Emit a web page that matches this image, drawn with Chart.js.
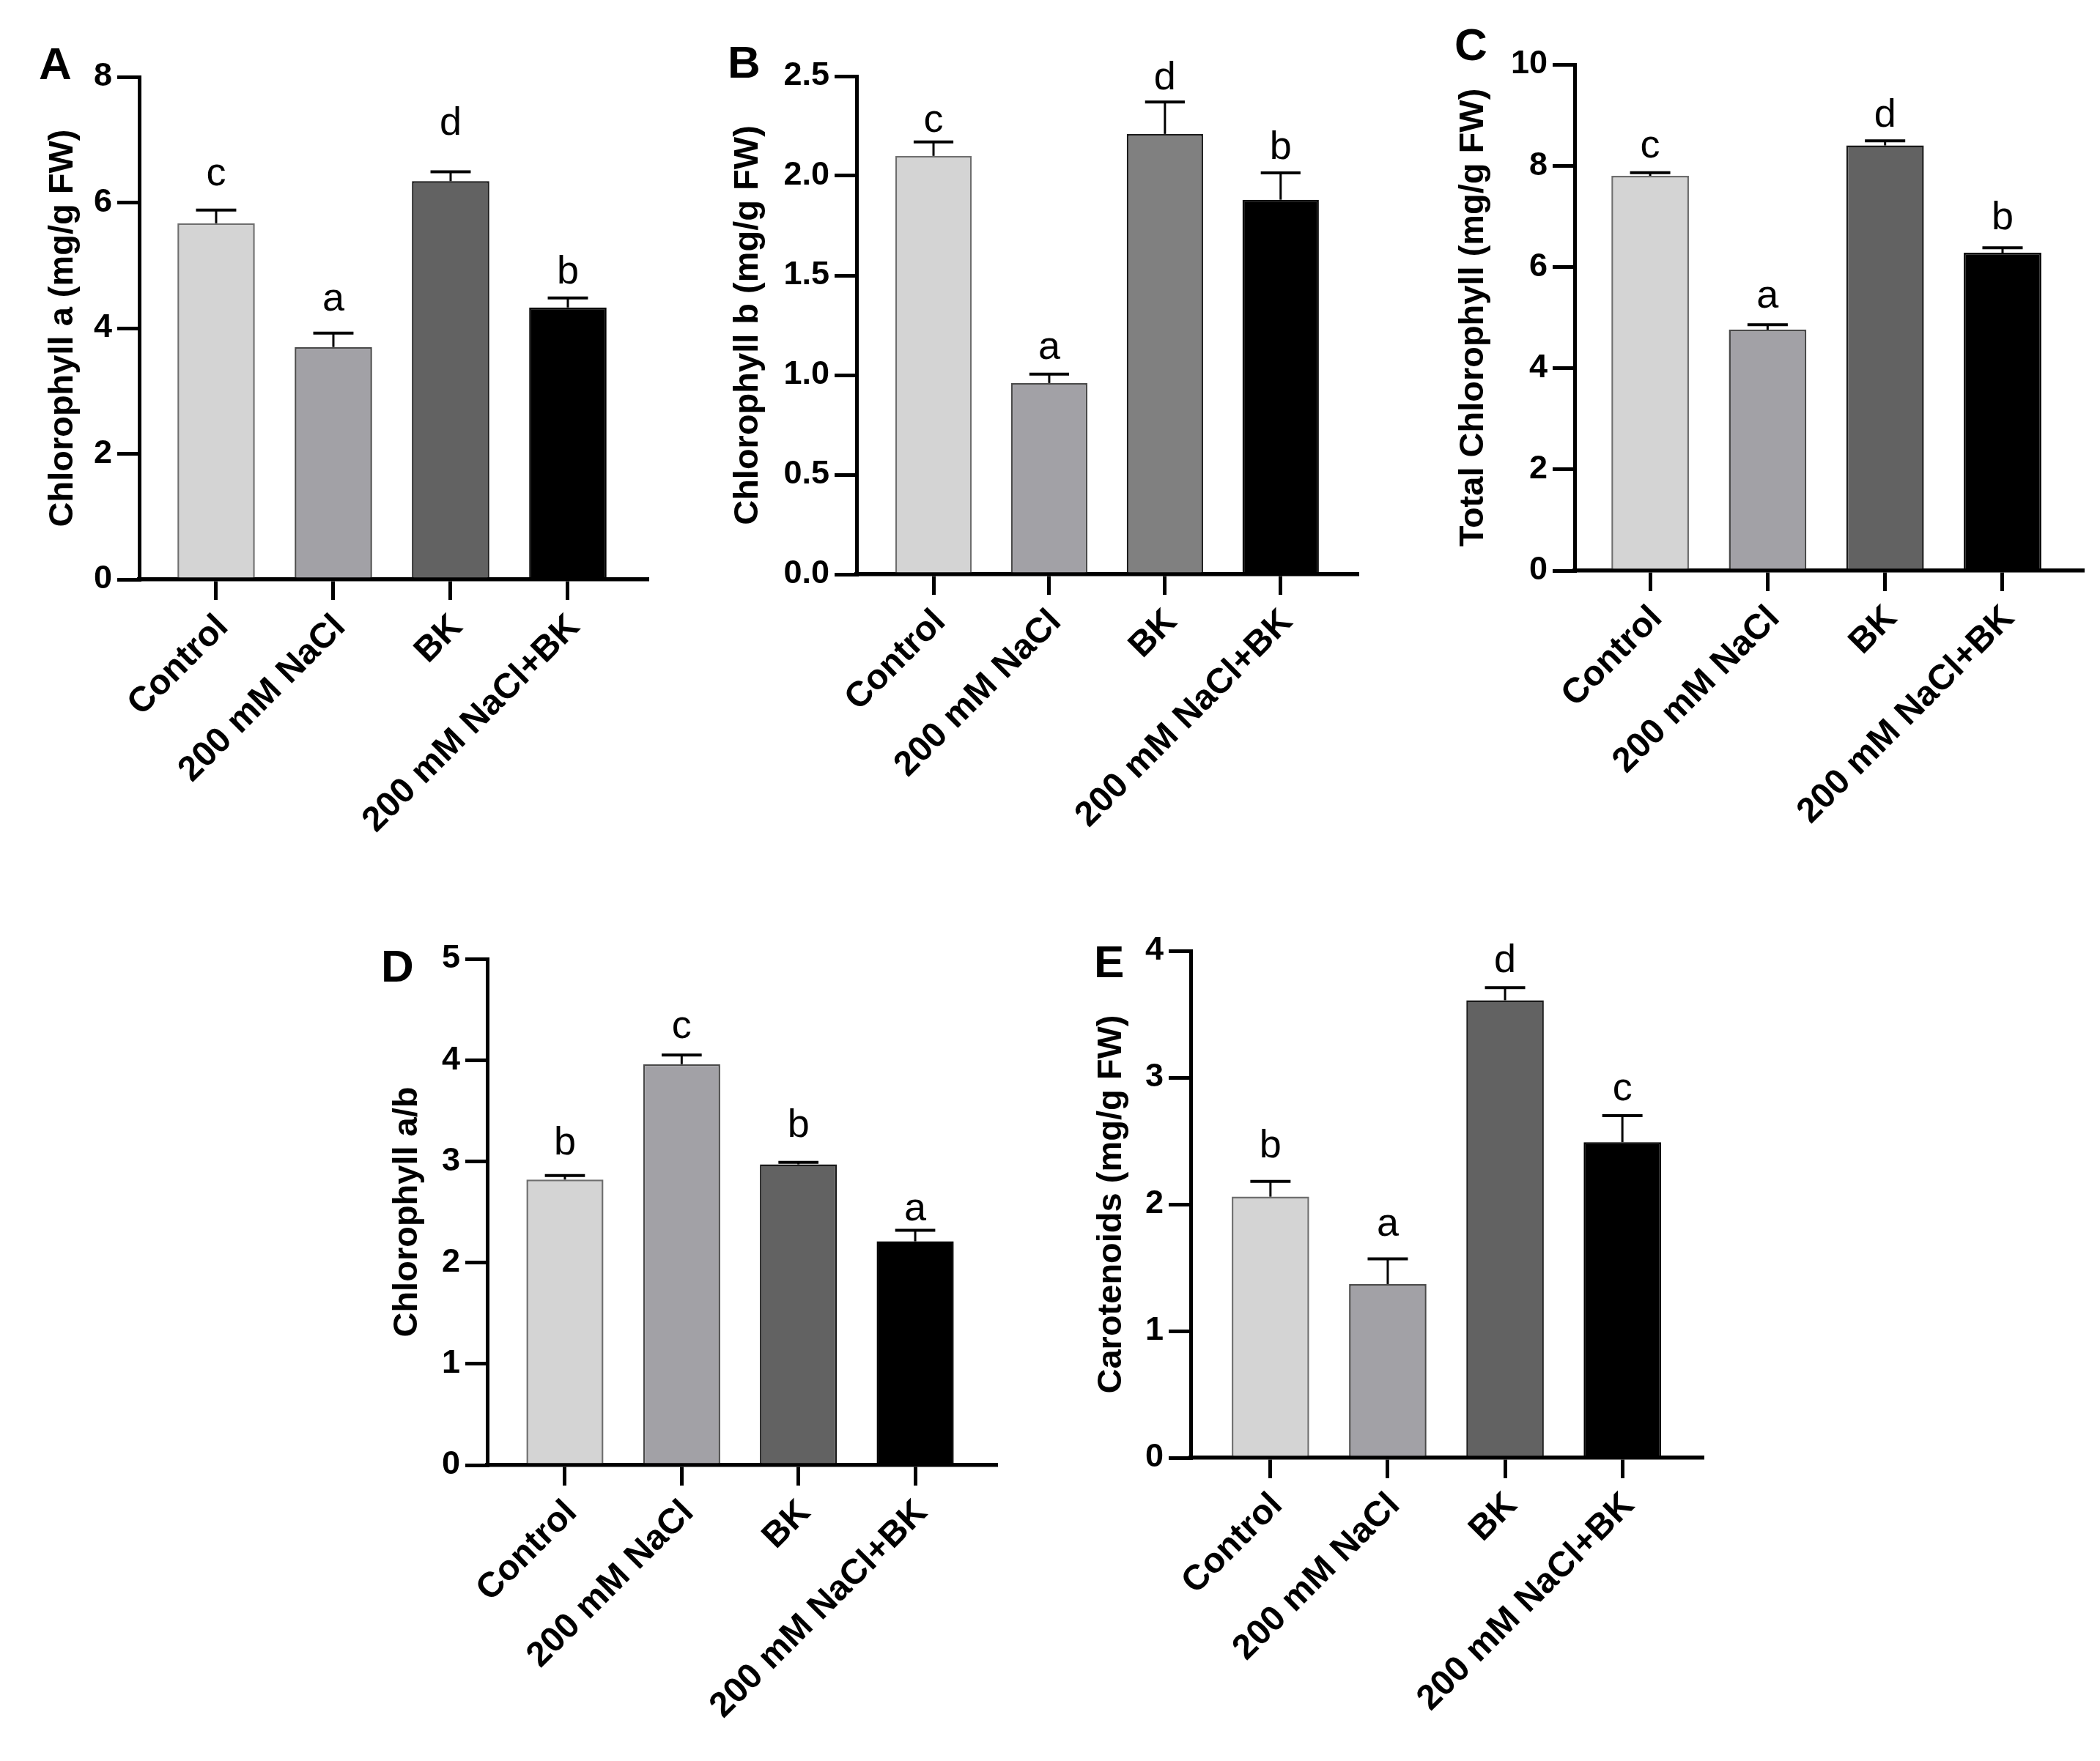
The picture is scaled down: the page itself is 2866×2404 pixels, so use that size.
<!DOCTYPE html>
<html><head><meta charset="utf-8">
<script src="https://cdn.jsdelivr.net/npm/chart.js@4.4.1/dist/chart.umd.min.js"></script>
<style>
html,body{margin:0;padding:0;background:#fff;}
body{width:2866px;height:2404px;position:relative;overflow:hidden;}
.panel{position:absolute;}
.panel canvas{display:block;}
</style></head><body>
<script>
// ---------- DATA ----------
const categories = ['Control', '200 mM NaCl', 'BK', '200 mM NaCl+BK'];

const chlA = [5.67, 3.70, 6.34, 4.33];
const chlAErr = [0.21, 0.22, 0.15, 0.15];
const chlALetters = ['c', 'a', 'd', 'b'];
const chlALetterY = [6.27, 4.28, 7.08, 4.71];
const chlATicks = [0, 2, 4, 6, 8];
const chlATickLabels = ['0', '2', '4', '6', '8'];

const chlB = [2.10, 0.96, 2.21, 1.88];
const chlBErr = [0.07, 0.045, 0.16, 0.135];
const chlBLetters = ['c', 'a', 'd', 'b'];
const chlBLetterY = [2.22, 1.08, 2.435, 2.083];
const chlBTicks = [0, 0.5, 1.0, 1.5, 2.0, 2.5];
const chlBTickLabels = ['0.0', '0.5', '1.0', '1.5', '2.0', '2.5'];

const totalChl = [7.80, 4.76, 8.40, 6.28];
const totalChlErr = [0.06, 0.10, 0.09, 0.10];
const totalChlLetters = ['c', 'a', 'd', 'b'];
const totalChlLetterY = [8.16, 5.20, 8.77, 6.74];
const totalChlTicks = [0, 2, 4, 6, 8, 10];
const totalChlTickLabels = ['0', '2', '4', '6', '8', '10'];

const chlRatio = [2.82, 3.96, 2.97, 2.21];
const chlRatioErr = [0.04, 0.09, 0.02, 0.11];
const chlRatioLetters = ['b', 'c', 'b', 'a'];
const chlRatioLetterY = [3.07, 4.22, 3.24, 2.42];
const chlRatioTicks = [0, 1, 2, 3, 4, 5];
const chlRatioTickLabels = ['0', '1', '2', '3', '4', '5'];

const carot = [2.06, 1.37, 3.61, 2.49];
const carotErr = [0.12, 0.20, 0.10, 0.21];
const carotLetters = ['b', 'a', 'd', 'c'];
const carotLetterY = [2.37, 1.75, 3.83, 2.82];
const carotTicks = [0, 1, 2, 3, 4];
const carotTickLabels = ['0', '1', '2', '3', '4'];

// ---------- STYLE / LAYOUT ----------
const FONT = '"Liberation Sans", Arial, Helvetica, sans-serif';
const colorsStd = ['#d4d4d4', '#a2a1a6', '#626262', '#000000'];
const colorsB = ['#d4d4d4', '#a2a1a6', '#808080', '#000000'];
const borderCols = ['#6e6e6e', '#4a4a4a', '#1a1a1a', '#000000'];

const panels = [
  {lab:'A', title:'Chlorophyll a (mg/g FW)', values:chlA, errs:chlAErr, letters:chlALetters, letterY:chlALetterY, ticks:chlATicks, tickLabels:chlATickLabels, colors:colorsStd,
   left:0, top:0, w:960, h:1200, axisX:190, topY:105, zeroY:791, rightX:883, titleCX:86, xmin:-0.656, xmax:3.675, labX:53, labBase:108},
  {lab:'B', title:'Chlorophyll b (mg/g FW)', values:chlB, errs:chlBErr, letters:chlBLetters, letterY:chlBLetterY, ticks:chlBTicks, tickLabels:chlBTickLabels, colors:colorsB,
   left:960, top:0, w:960, h:1200, axisX:1169, topY:104, zeroY:784, rightX:1852, titleCX:1021, xmin:-0.665, xmax:3.66, labX:993, labBase:106},
  {lab:'C', title:'Total Chlorophyll (mg/g FW)', values:totalChl, errs:totalChlErr, letters:totalChlLetters, letterY:totalChlLetterY, ticks:totalChlTicks, tickLabels:totalChlTickLabels, colors:colorsStd,
   left:1920, top:0, w:946, h:1200, axisX:2149, topY:88, zeroY:779, rightX:2842, titleCX:2011, xmin:-0.643, xmax:3.68, labX:1985, labBase:82},
  {lab:'D', title:'Chlorophyll a/b', values:chlRatio, errs:chlRatioErr, letters:chlRatioLetters, letterY:chlRatioLetterY, ticks:chlRatioTicks, tickLabels:chlRatioTickLabels, colors:colorsStd,
   left:420, top:1230, w:1000, h:1174, axisX:665, topY:1309, zeroY:2000, rightX:1359, titleCX:556, xmin:-0.665, xmax:3.69, labX:520, labBase:1340},
  {lab:'E', title:'Carotenoids (mg/g FW)', values:carot, errs:carotErr, letters:carotLetters, letterY:carotLetterY, ticks:carotTicks, tickLabels:carotTickLabels, colors:colorsStd,
   left:1420, top:1230, w:1000, h:1174, axisX:1625, topY:1298, zeroY:1990, rightX:2323, titleCX:1517, xmin:-0.68, xmax:3.68, labX:1493, labBase:1334}
];

Chart.defaults.color = '#000';
Chart.defaults.font.family = FONT;

const TITLE_SIZE = 47;
const YTICK_SIZE = 45;
const XTICK_SIZE = 48;

function makePanel(p) {
  const div = document.createElement('div');
  div.className = 'panel';
  div.style.left = p.left + 'px';
  div.style.top = p.top + 'px';
  div.style.width = p.w + 'px';
  div.style.height = p.h + 'px';
  const cv = document.createElement('canvas');
  div.appendChild(cv);
  document.body.appendChild(div);

  const extras = {
    id: 'extras' + p.lab,
    afterDatasetsDraw(chart) {
      const ctx = chart.ctx;
      const ys = chart.scales.y;
      const meta = chart.getDatasetMeta(0);
      ctx.save();
      ctx.strokeStyle = '#000';
      ctx.fillStyle = '#000';
      meta.data.forEach((bar, i) => {
        const yTop = ys.getPixelForValue(p.values[i] + p.errs[i]);
        const half = bar.width * 0.26;
        ctx.lineWidth = 3;
        ctx.beginPath();
        ctx.moveTo(bar.x, bar.y);
        ctx.lineTo(bar.x, yTop);
        ctx.stroke();
        ctx.lineWidth = 4;
        ctx.beginPath();
        ctx.moveTo(bar.x - half, yTop);
        ctx.lineTo(bar.x + half, yTop);
        ctx.stroke();
        ctx.font = '54px ' + FONT;
        ctx.textAlign = 'center';
        ctx.textBaseline = 'alphabetic';
        ctx.fillText(p.letters[i], bar.x, ys.getPixelForValue(p.letterY[i]));
      });
      ctx.font = 'bold 62px ' + FONT;
      ctx.textAlign = 'left';
      ctx.textBaseline = 'alphabetic';
      ctx.fillText(p.lab, p.labX - p.left, p.labBase - p.top);
      ctx.restore();
    }
  };

  new Chart(cv, {
    type: 'bar',
    data: {
      datasets: [{
        data: p.values.map((v, i) => ({x: i, y: v})),
        backgroundColor: p.colors,
        borderColor: borderCols,
        borderWidth: 2.5,
        categoryPercentage: 1,
        barPercentage: 0.66
      }]
    },
    options: {
      responsive: true,
      maintainAspectRatio: false,
      animation: false,
      devicePixelRatio: 1,
      layout: {padding: {left: 0, top: p.topY - p.top, right: p.left + p.w - p.rightX, bottom: 0}},
      plugins: {legend: {display: false}, tooltip: {enabled: false}},
      scales: {
        x: {
          type: 'linear',
          min: p.xmin, max: p.xmax,
          bounds: 'data',
          offset: false,
          afterBuildTicks: s => { s.ticks = categories.map((c, i) => ({value: i})); },
          afterFit: s => { s.height = p.top + p.h - p.zeroY; },
          grid: {offset: false, drawOnChartArea: false, drawTicks: true, tickLength: 28, lineWidth: 5, color: '#000'},
          border: {display: true, width: 5.5, color: '#000'},
          ticks: {
            autoSkip: false, minRotation: 45, maxRotation: 45, padding: 9, labelOffset: 9,
            font: {size: XTICK_SIZE, weight: 'bold', family: FONT}, color: '#000',
            callback: (v, i) => categories[i]
          }
        },
        y: {
          type: 'linear',
          min: 0, max: p.ticks[p.ticks.length - 1],
          bounds: 'data',
          afterBuildTicks: s => { s.ticks = p.ticks.map(v => ({value: v})); },
          afterFit: s => { s.width = p.axisX - p.left; },
          grid: {drawOnChartArea: false, drawTicks: true, tickLength: 30, lineWidth: 5, color: '#000'},
          border: {display: true, width: 5, color: '#000'},
          ticks: {
            padding: 7,
            font: {size: YTICK_SIZE, weight: 'bold', family: FONT}, color: '#000',
            callback: (v, i) => p.tickLabels[i]
          },
          title: {
            display: true, text: p.title, color: '#000',
            font: {size: TITLE_SIZE, weight: 'bold', family: FONT, lineHeight: 1.2},
            padding: {top: Math.max(0, p.titleCX - p.left - TITLE_SIZE * 0.6), bottom: 0}
          }
        }
      }
    },
    plugins: [extras]
  });
}

panels.forEach(makePanel);
</script>
</body></html>
